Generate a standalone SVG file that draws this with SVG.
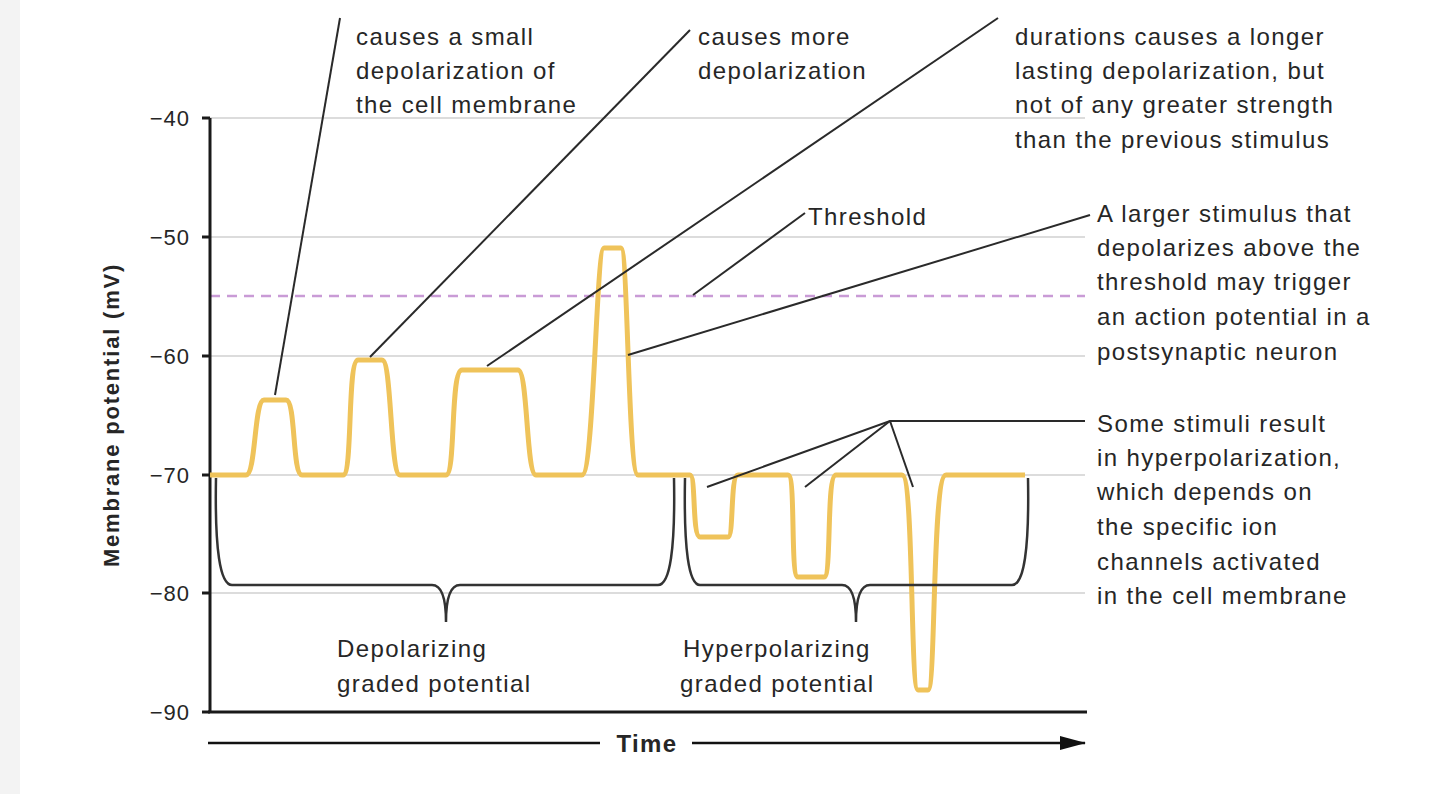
<svg xmlns="http://www.w3.org/2000/svg" width="1440" height="794" viewBox="0 0 1440 794">
<style>
text{font-family:"Liberation Sans",Arial,sans-serif;font-size:24px;letter-spacing:1.4px;fill:#262626}
.tick{text-anchor:end;font-size:22px;letter-spacing:1px}
.grid{stroke:#dcdcdc;stroke-width:2}
.lead{stroke:#2a2a2a;stroke-width:2;fill:none}
.brace{stroke:#333;stroke-width:2.5;fill:none}
</style>
<defs><marker id="ah" markerWidth="26" markerHeight="14" refX="25" refY="7" orient="auto" markerUnits="userSpaceOnUse"><path d="M0,0 L26,7 L0,14 z" fill="#111"/></marker></defs>
<rect width="1440" height="794" fill="#fff"/>
<rect x="0" y="0" width="20" height="794" fill="#f3f3f3"/>
<g id="grid">
<line class="grid" x1="210" y1="118" x2="1085" y2="118"/>
<line class="grid" x1="210" y1="237" x2="1085" y2="237"/>
<line class="grid" x1="210" y1="356" x2="1085" y2="356"/>
<line class="grid" x1="210" y1="475" x2="1085" y2="475"/>
<line class="grid" x1="210" y1="593" x2="1085" y2="593"/>
<line x1="210" y1="296" x2="1085" y2="296" stroke="#c99bd6" stroke-width="2.5" stroke-dasharray="10,7"/>
</g>
<g id="axes" stroke="#1a1a1a" stroke-width="3">
<line x1="210" y1="118" x2="210" y2="713"/>
<line x1="208" y1="712" x2="1087" y2="712"/>
<line x1="202" y1="118" x2="210" y2="118"/><line x1="202" y1="237" x2="210" y2="237"/><line x1="202" y1="356" x2="210" y2="356"/><line x1="202" y1="475" x2="210" y2="475"/><line x1="202" y1="593" x2="210" y2="593"/><line x1="202" y1="712" x2="210" y2="712"/>
</g>
<g id="ticks">
<text class="tick" x="190" y="126">−40</text>
<text class="tick" x="190" y="245">−50</text>
<text class="tick" x="190" y="364">−60</text>
<text class="tick" x="190" y="483">−70</text>
<text class="tick" x="190" y="601">−80</text>
<text class="tick" x="190" y="720">−90</text>
<text x="0" y="0" transform="translate(119,415) rotate(-90)" text-anchor="middle" font-weight="bold" style="font-size:22px;letter-spacing:1.8px">Membrane potential (mV)</text>
</g>
<g id="time">
<line x1="208" y1="743" x2="600" y2="743" stroke="#111" stroke-width="2.5"/>
<text x="647" y="752" text-anchor="middle" font-weight="bold">Time</text>
<line x1="692" y1="743" x2="1085" y2="743" stroke="#111" stroke-width="2.5" marker-end="url(#ah)"/>
</g>
<g id="trace">
<path fill="none" stroke="#efc35a" stroke-width="5" stroke-linejoin="round" d="M210,475 L246,475 C256,475 254,400 264,400 L286,400 C296,400 292,475 302,475 L343,475 C353,475 347,360 358,360 L382,360 C392,360 390,475 400,475 L446,475 C456,475 450,370 462,370 L518,370 C528,370 526,475 536,475 L582,475 C594,475 596,248 604,248 L621,248 C628,248 628,475 638,475 L690,475 C696,475 692,537 700,537 L728,537 C734,537 730,475 738,475 L788,475 C796,475 790,577 798,577 L824,577 C832,577 826,475 836,475 L902,475 C914,475 910,690 918,690 L928,690 C936,690 932,475 946,475 L1025,475"/>
</g>
<g id="braces">
<path class="brace" d="M216,478 Q214,585 232,585 L432,585 Q446,585 446,622 Q446,585 460,585 L658,585 Q676,585 674,478"/>
<path class="brace" d="M685,478 Q683,585 700,585 L842,585 Q856,585 856,622 Q856,585 870,585 L1012,585 Q1030,585 1028,478"/>
</g>
<g id="connectors">
<line class="lead" x1="340" y1="18" x2="275" y2="395"/>
<line class="lead" x1="690" y1="30" x2="370" y2="357"/>
<line class="lead" x1="998" y1="18" x2="487" y2="366"/>
<line class="lead" x1="805" y1="213" x2="693" y2="295"/>
<line class="lead" x1="1090" y1="215" x2="628" y2="355"/>
<polyline class="lead" points="1085,421 890,421 707,487"/>
<line class="lead" x1="890" y1="421" x2="805" y2="487"/>
<line class="lead" x1="890" y1="421" x2="913" y2="487"/>
</g>
<g id="labels">
<text x="356" y="45">causes a small</text><text x="356" y="79">depolarization of</text><text x="356" y="113">the cell membrane</text>
<text x="698" y="45">causes more</text><text x="698" y="79">depolarization</text>
<text x="1015" y="45">durations causes a longer</text><text x="1015" y="79">lasting depolarization, but</text><text x="1015" y="113">not of any greater strength</text><text x="1015" y="148">than the previous stimulus</text>
<text x="808" y="225">Threshold</text>
<text x="1097" y="222">A larger stimulus that</text><text x="1097" y="256">depolarizes above the</text><text x="1097" y="290">threshold may trigger</text><text x="1097" y="325">an action potential in a</text><text x="1097" y="360">postsynaptic neuron</text>
<text x="1097" y="432">Some stimuli result</text><text x="1097" y="466">in hyperpolarization,</text><text x="1097" y="500">which depends on</text><text x="1097" y="535">the specific ion</text><text x="1097" y="570">channels activated</text><text x="1097" y="604">in the cell membrane</text>
<text x="337" y="657">Depolarizing</text><text x="337" y="692">graded potential</text>
<text x="683" y="657">Hyperpolarizing</text><text x="680" y="692">graded potential</text>
</g>
</svg>
